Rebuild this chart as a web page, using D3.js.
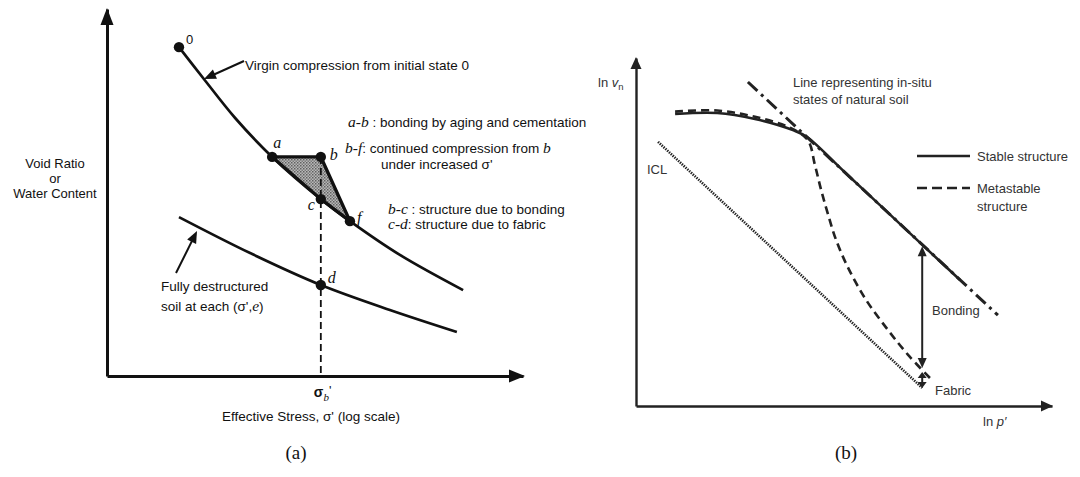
<!DOCTYPE html>
<html>
<head>
<meta charset="utf-8">
<script src="https://cdn.jsdelivr.net/npm/d3@7"></script>
<style>
  body { margin: 0; background: #fff; }
  svg { display: block; }
  .sans { font-family: "Liberation Sans", Arial, sans-serif; }
  .serif { font-family: "Liberation Serif", "DejaVu Serif", serif; }
</style>
</head>
<body>
<svg id="chart" width="1080" height="477"></svg>
<script>
// ---------- (a) void ratio vs. effective stress (plot units 0-100) ----------
const virginCurve = [[17.3, 89.6], [23.1, 81.2], [30.8, 70.3], [39.7, 59.7], [51.4, 48.2], [58.4, 42.2], [70.4, 33.0], [85.6, 23.4]];
const destructuredCurve = [[17.3, 43.3], [34.4, 33.5], [51.4, 24.8], [68.0, 18.0], [84.1, 12.0]];
const statePoints = ["0", "a", "b", "c", "f", "d"];
const stateX = [17.3, 39.7, 51.4, 51.4, 58.4, 51.4];
const stateY = [89.6, 59.7, 59.7, 48.2, 42.2, 24.8];
const sigmaB = 51.4;
const legendA = [
  ["a-b", " : bonding by aging and cementation"],
  ["b-f", ":  continued compression from "],
  ["b-c", " : structure due to bonding"],
  ["c-d", ": structure due to fabric"]
];

// ---------- (b) ln v vs. ln p' (plot units 0-100) ----------
const stableCurve = [[9.4, 83.9], [19.5, 84.2], [28.6, 82.5], [37.7, 79.3], [41.1, 77.3], [50.0, 67.4], [60.0, 56.2], [70.0, 45.0], [77.9, 36.2]];
const metastableCurve = [[9.4, 84.6], [19.5, 84.9], [28.6, 83.1], [37.0, 80.0], [41.3, 76.4], [43.0, 69.3], [44.5, 62.1], [46.2, 54.9], [48.1, 47.7], [51.0, 39.7], [55.3, 30.5], [60.6, 21.8], [65.4, 14.7], [70.7, 8.0]];
const inSituLine = [[26.9, 93.1], [87.0, 26.1]];
const iclLine = [[5.3, 75.9], [68.8, 5.2]];
const structureX = 68.8;
const bondingSpan = [45.9, 10.9];
const fabricSpan = [9.8, 5.2];

const svg = d3.select("#chart");
const ink = "#111";
const inkB = "#222";

function arrowHead(g, tip, dir, len, half, color) {
  const [tx, ty] = tip, [dx, dy] = dir;
  const n = Math.hypot(dx, dy), ux = dx / n, uy = dy / n;
  const bx = tx - ux * len, by = ty - uy * len;
  g.append("path")
    .attr("d", `M${tx},${ty}L${bx - uy * half},${by + ux * half}L${bx + uy * half},${by - ux * half}Z`)
    .attr("fill", color);
}

// ================= Panel (a) =================
const xa = d3.scaleLinear().domain([0, 100]).range([107, 523]);
const ya = d3.scaleLinear().domain([0, 100]).range([376, 9]);
const ga = svg.append("g");

const defs = svg.append("defs");
const pat = defs.append("pattern").attr("id", "stipple").attr("width", 3).attr("height", 3)
  .attr("patternUnits", "userSpaceOnUse");
pat.append("rect").attr("width", 3).attr("height", 3).attr("fill", "#b8b8b8");
pat.append("rect").attr("width", 1.5).attr("height", 1.5).attr("fill", "#606060");
pat.append("rect").attr("x", 1.5).attr("y", 1.5).attr("width", 1.5).attr("height", 1.5).attr("fill", "#7a7a7a");

// axes (no ticks) with arrow heads
ga.append("g").attr("transform", `translate(0,${ya(0)})`)
  .call(d3.axisBottom(xa).tickValues([]).tickSizeOuter(0))
  .call(g => g.select(".domain").attr("stroke", ink).attr("stroke-width", 3));
ga.append("g").attr("transform", `translate(${xa(0)},0)`)
  .call(d3.axisLeft(ya).tickValues([]).tickSizeOuter(0))
  .call(g => g.select(".domain").attr("stroke", ink).attr("stroke-width", 3));
arrowHead(ga, [xa(100) + 2, ya(0)], [1, 0], 16, 6.5, ink);
arrowHead(ga, [xa(0), ya(100) - 1], [0, -1], 17, 6.5, ink);

const P = i => [xa(stateX[i]), ya(stateY[i])];

// shaded triangle a-b-f
ga.append("path")
  .attr("d", `M${P(1)}L${P(2)}L${P(4)}Z`)
  .attr("fill", "url(#stipple)");

// dashed line from b down to the stress axis
ga.append("line")
  .attr("x1", xa(sigmaB)).attr("x2", xa(sigmaB))
  .attr("y1", ya(stateY[2])).attr("y2", ya(0))
  .attr("stroke", ink).attr("stroke-width", 1.8).attr("stroke-dasharray", "7,4");

const lineA = d3.line().x(d => xa(d[0])).y(d => ya(d[1])).curve(d3.curveCatmullRom);
ga.append("path").datum(virginCurve).attr("d", lineA)
  .attr("fill", "none").attr("stroke", ink).attr("stroke-width", 2.7);
ga.append("path").datum(destructuredCurve).attr("d", lineA)
  .attr("fill", "none").attr("stroke", ink).attr("stroke-width", 2.7);

// bonded path a-b-f
ga.append("path").attr("d", `M${P(1)}L${P(2)}L${P(4)}`)
  .attr("fill", "none").attr("stroke", ink).attr("stroke-width", 3.4).attr("stroke-linejoin", "round");
ga.append("path").attr("d", `M${P(1)}L${P(3)}L${P(4)}`)
  .attr("fill", "none").attr("stroke", ink).attr("stroke-width", 3.2);

// state points
ga.selectAll("circle.state").data(statePoints).join("circle")
  .attr("class", "state")
  .attr("cx", (d, i) => xa(stateX[i])).attr("cy", (d, i) => ya(stateY[i]))
  .attr("r", 5.2).attr("fill", ink);

const labelOffsets = { "0": [7, -3], a: [1, -9], b: [9, 3], c: [-13, 11], f: [7, 2], d: [7, -2] };
ga.selectAll("text.state").data(statePoints).join("text")
  .attr("class", d => d === "0" ? "state sans" : "state serif")
  .attr("x", (d, i) => xa(stateX[i]) + labelOffsets[d][0])
  .attr("y", (d, i) => ya(stateY[i]) + labelOffsets[d][1])
  .attr("font-size", d => d === "0" ? 13 : 16)
  .attr("font-style", d => d === "0" ? "normal" : "italic")
  .attr("fill", ink)
  .text(d => d);

// annotation arrows
function annotArrow(g, from, to, color) {
  const [fx, fy] = from, [tx, ty] = to;
  const n = Math.hypot(tx - fx, ty - fy);
  g.append("line").attr("x1", fx).attr("y1", fy)
    .attr("x2", tx - (tx - fx) / n * 8).attr("y2", ty - (ty - fy) / n * 8)
    .attr("stroke", color).attr("stroke-width", 2);
  arrowHead(g, to, [tx - fx, ty - fy], 12, 5, color);
}
annotArrow(ga, [244, 61], [204, 79], ink);
annotArrow(ga, [176, 273], [197, 231], ink);

const FS = 13.5;
const txtA = (x, y, s, anchor, fs) => ga.append("text").attr("class", "sans")
  .attr("x", x).attr("y", y).attr("font-size", fs || FS).attr("fill", ink)
  .attr("text-anchor", anchor || "start").text(s);

txtA(245, 70, "Virgin compression from initial state 0");
txtA(55, 168, "Void Ratio", "middle", 13);
txtA(55, 183, "or", "middle", 13);
txtA(55, 198, "Water Content", "middle", 13);
txtA(161, 291, "Fully destructured");
const soil = ga.append("text").attr("class", "sans").attr("x", 161).attr("y", 311)
  .attr("font-size", FS).attr("fill", ink);
soil.append("tspan").text("soil at each (σ',");
soil.append("tspan").attr("class", "serif").attr("font-style", "italic").attr("font-size", 15.5).text("e");
soil.append("tspan").text(")");
txtA(311, 421, "Effective Stress, σ' (log scale)", "middle");

// σ_b' label under the axis
const sig = ga.append("text").attr("class", "sans").attr("x", xa(sigmaB) - 7).attr("y", ya(0) + 21)
  .attr("font-size", 14).attr("fill", ink);
sig.append("tspan").attr("font-weight", "bold").text("σ");
sig.append("tspan").attr("class", "serif").attr("font-style", "italic").attr("font-size", 11).attr("dy", 4).text("b");
sig.append("tspan").attr("dy", -6).attr("font-size", 13).text("'");

// explanatory notes
const notePos = [[348, 127], [345, 153], [388, 214], [388, 229]];
legendA.forEach((d, i) => {
  const t = ga.append("text").attr("class", "sans").attr("x", notePos[i][0]).attr("y", notePos[i][1])
    .attr("font-size", FS).attr("fill", ink);
  t.append("tspan").attr("class", "serif").attr("font-style", "italic").attr("font-size", 15.5).text(d[0]);
  t.append("tspan").text(d[1]);
  if (i === 1) t.append("tspan").attr("class", "serif").attr("font-style", "italic").attr("font-size", 15.5).text("b");
});
txtA(381, 169, "under increased σ'");

// ================= Panel (b) =================
const xb = d3.scaleLinear().domain([0, 100]).range([636, 1052]);
const yb = d3.scaleLinear().domain([0, 100]).range([406, 58]);
const gb = svg.append("g");

gb.append("g").attr("transform", `translate(0,${yb(0)})`)
  .call(d3.axisBottom(xb).tickValues([]).tickSizeOuter(0))
  .call(g => g.select(".domain").attr("stroke", inkB).attr("stroke-width", 2.4));
gb.append("g").attr("transform", `translate(${xb(0)},0)`)
  .call(d3.axisLeft(yb).tickValues([]).tickSizeOuter(0))
  .call(g => g.select(".domain").attr("stroke", inkB).attr("stroke-width", 2.4));
arrowHead(gb, [xb(100) + 1, yb(0)], [1, 0], 12, 5.5, inkB);
arrowHead(gb, [xb(0), yb(100) - 1], [0, -1], 12, 5.5, inkB);

const lineB = d3.line().x(d => xb(d[0])).y(d => yb(d[1]));

gb.append("path").datum(iclLine).attr("d", lineB)
  .attr("fill", "none").attr("stroke", inkB).attr("stroke-width", 2.6).attr("stroke-dasharray", "1.4,1.1");
gb.append("path").datum(inSituLine).attr("d", lineB)
  .attr("fill", "none").attr("stroke", inkB).attr("stroke-width", 3).attr("stroke-dasharray", "13,5,3,5");
gb.append("path").datum(stableCurve).attr("d", lineB.curve(d3.curveCatmullRom))
  .attr("fill", "none").attr("stroke", inkB).attr("stroke-width", 2.6);
gb.append("path").datum(metastableCurve).attr("d", lineB.curve(d3.curveCatmullRom))
  .attr("fill", "none").attr("stroke", inkB).attr("stroke-width", 2.6).attr("stroke-dasharray", "8,5");

// bonding / fabric double arrows
function dblArrow(g, x, y1, y2, head) {
  g.append("line").attr("x1", x).attr("x2", x).attr("y1", y1 + head - 1).attr("y2", y2 - head + 1)
    .attr("stroke", inkB).attr("stroke-width", 2);
  arrowHead(g, [x, y1], [0, -1], head, 4.5, inkB);
  arrowHead(g, [x, y2], [0, 1], head, 4.5, inkB);
}
dblArrow(gb, xb(structureX), yb(bondingSpan[0]), yb(bondingSpan[1]), 10);
dblArrow(gb, xb(structureX), yb(fabricSpan[0]), yb(fabricSpan[1]), 6);

const txtB = (x, y, s) => gb.append("text").attr("class", "sans")
  .attr("x", x).attr("y", y).attr("font-size", 13).attr("fill", "#333").text(s);

txtB(793, 87, "Line representing in-situ");
txtB(793, 104, "states of natural soil");
txtB(647, 174, "ICL");
txtB(932, 315, "Bonding");
txtB(935, 395, "Fabric");

// legend
const legendB = [{ label: ["Stable structure"], dash: null }, { label: ["Metastable", "structure"], dash: "10,5" }];
legendB.forEach((d, i) => {
  const y = 156 + i * 32;
  gb.append("line").attr("x1", 917).attr("x2", 970).attr("y1", y).attr("y2", y)
    .attr("stroke", inkB).attr("stroke-width", 2.6).attr("stroke-dasharray", d.dash);
  d.label.forEach((s, j) => txtB(977, y + 5 + j * 18, s));
});

// axis titles
const lnv = gb.append("text").attr("class", "sans").attr("x", 598).attr("y", 87)
  .attr("font-size", 13).attr("fill", "#333");
lnv.append("tspan").text("ln ");
lnv.append("tspan").attr("font-style", "italic").text("v");
lnv.append("tspan").attr("font-size", 9.5).attr("dy", 3).text("n");
const lnp = gb.append("text").attr("class", "sans").attr("x", 983).attr("y", 426)
  .attr("font-size", 13).attr("fill", "#333");
lnp.append("tspan").text("ln ");
lnp.append("tspan").attr("font-style", "italic").text("p′");

// panel captions
svg.append("text").attr("class", "serif").attr("x", 296).attr("y", 459).attr("text-anchor", "middle")
  .attr("font-size", 19).attr("fill", "#111").text("(a)");
svg.append("text").attr("class", "serif").attr("x", 846).attr("y", 459).attr("text-anchor", "middle")
  .attr("font-size", 19).attr("fill", "#111").text("(b)");
</script>
</body>
</html>
